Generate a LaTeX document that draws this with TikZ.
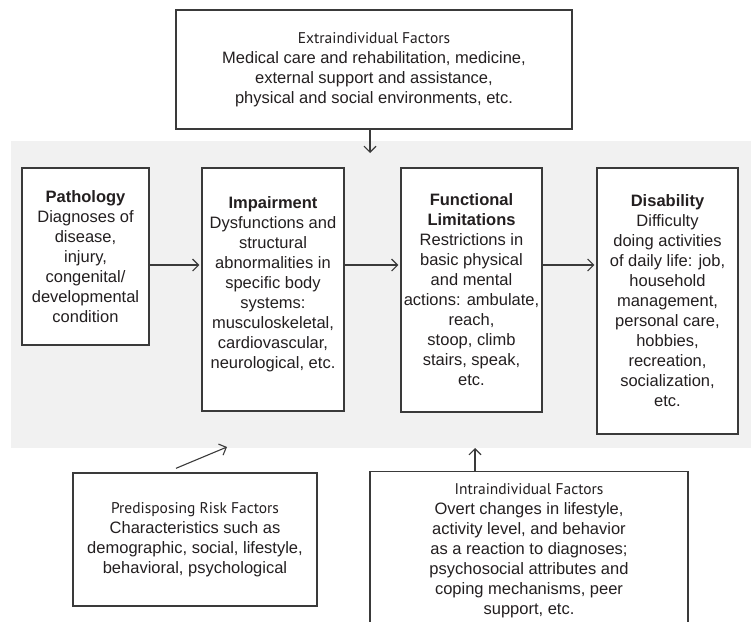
\documentclass[tikz,border=0pt]{standalone}
\usepackage{fontspec}
\setmainfont{Liberation Sans}
\newfontfamily\headfont{PT Sans}
\usetikzlibrary{arrows.meta}
\definecolor{bggray}{RGB}{241,241,241}
\definecolor{ink}{RGB}{35,31,32}
\definecolor{edgegray}{RGB}{58,58,58}
\tikzset{every node/.style={text=ink,font=\fontsize{16.5}{20}\selectfont},
 box/.style={draw=edgegray,line width=1.4pt,fill=white,align=center,inner sep=0pt},
 arr/.style={draw=edgegray,line width=1.1pt,-{Straight Barb[length=6pt,width=12pt]}},
 }
\newcommand{\headline}[1]{{\headfont\fontsize{15.5}{20}\selectfont #1}}

\begin{document}
\begin{tikzpicture}[x=1pt,y=-1pt]
    \useasboundingbox (0,0) rectangle (751,621);
    \fill[bggray] (11,141) rectangle (760,448);
    \node[box,minimum width=396pt,minimum height=119pt] (extra) at (374,69.5)
        {\headline{Extraindividual Factors}\\Medical care and rehabilitation, medicine,\\external support and assistance,\\physical and social environments, etc.};
    \node[box,minimum width=127pt,minimum height=177pt] (patho) at (85.5,256.5)
        {\textbf{Pathology}\\Diagnoses of\\disease,\\injury,\\congenital/\\developmental\\condition};
    \node[box,minimum width=142pt,minimum height=243pt] (impair) at (273,289.5)
        {\textbf{Impairment}\\Dysfunctions and\\structural\\abnormalities in\\specific body\\systems:\\musculoskeletal,\\cardiovascular,\\neurological, etc.\\[-7pt]};
    \node[box,minimum width=141pt,minimum height=244pt] (funct) at (471.5,290)
        {\textbf{Functional}\\\textbf{Limitations}\\Restrictions in\\basic physical\\and mental\\actions: ambulate,\\reach,\\stoop, climb\\stairs, speak,\\etc.};
    \node[box,minimum width=141pt,minimum height=266pt] (disab) at (667.5,301)
        {\textbf{Disability}\\Difficulty\\doing activities\\of daily life: job,\\household\\management,\\personal care,\\hobbies,\\recreation,\\socialization,\\etc.};
    \node[box,minimum width=244pt,minimum height=133pt] (predis) at (195,539.5)
        {\headline{Predisposing Risk Factors}\\Characteristics such as\\demographic, social, lifestyle,\\behavioral, psychological};
    \node[box,minimum width=318pt,minimum height=158pt,anchor=north] (intra) at (529,471)
        {\headline{Intraindividual Factors}\\Overt changes in lifestyle,\\activity level, and behavior\\as a reaction to diagnoses;\\psychosocial attributes and\\coping mechanisms, peer\\support, etc.};
    \coordinate (row) at (0,265);
    \coordinate (extraTip) at (370,153);
    \coordinate (predisTip) at (227,447);
    \coordinate (intraTip) at (475,448);
    \foreach \a/\b in {patho/impair, impair/funct, funct/disab} {
        \draw[arr, shorten >=2pt] (\a.east |- row) -- (\b.west |- row);
    }
    \draw[arr] (extra.south -| extraTip) -- (extraTip);
    \draw[arr] ([xshift=-19pt,yshift=4pt]predis.north) -- (predisTip);
    \draw[arr] (intra.north -| intraTip) -- (intraTip);
\end{tikzpicture}
\end{document}
